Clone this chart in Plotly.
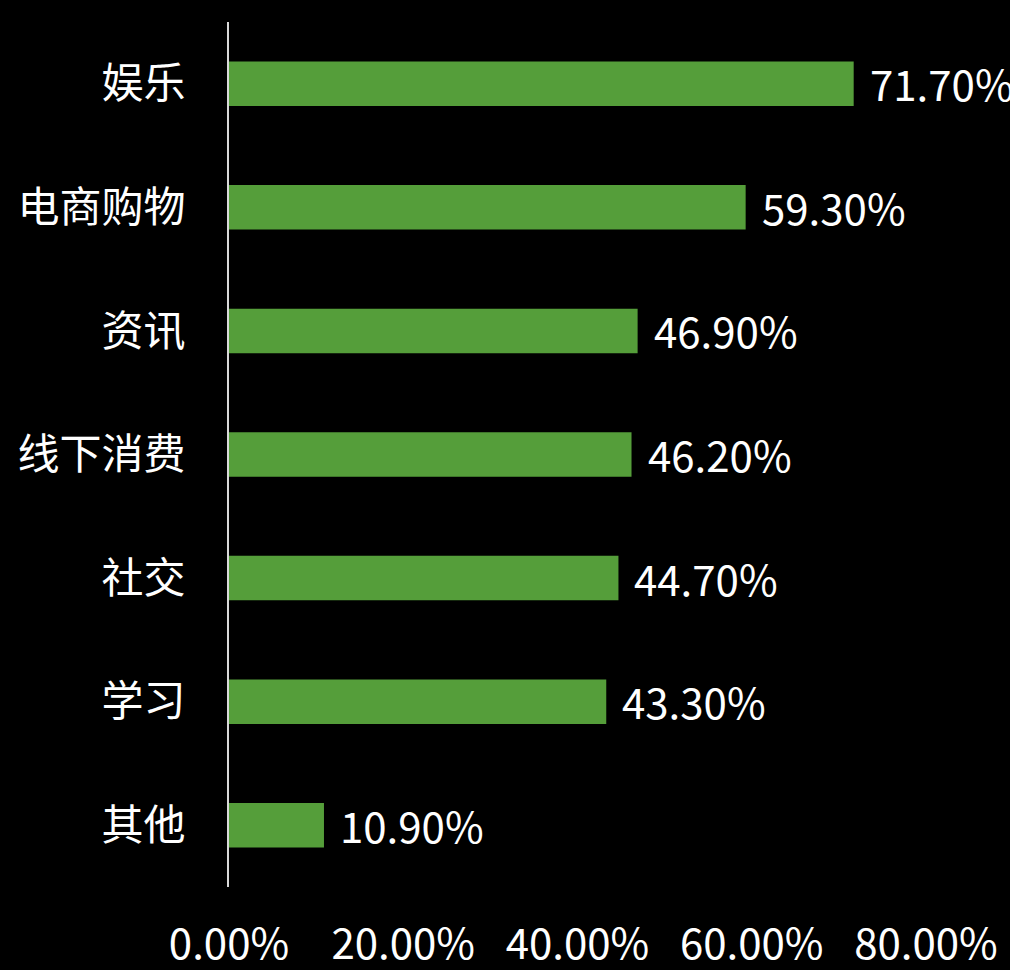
import plotly.graph_objects as go

categories = ["娱乐", "电商购物", "资讯", "线下消费", "社交", "学习", "其他"]
values = [0.717, 0.593, 0.469, 0.462, 0.447, 0.433, 0.109]
tick_vals = [0, 0.2, 0.4, 0.6, 0.8]
tick_text = ["0.00%", "20.00%", "40.00%", "60.00%", "80.00%"]

FONT = "Noto Sans CJK SC, Microsoft YaHei, sans-serif"
FS = 42

fig = go.Figure()
fig.add_trace(go.Bar(
    y=categories, x=values, orientation="h",
    marker=dict(color="#559E3A", line=dict(width=0)),
    width=0.36,
))
for c, v in zip(categories, values):
    fig.add_annotation(x=v, y=c, text=f"{v*100:.2f}%", showarrow=False,
                       xanchor="left", yanchor="middle", xshift=14, yshift=1,
                       font=dict(color="white", size=FS, family=FONT))

fig.update_layout(
    width=1010, height=970,
    paper_bgcolor="black", plot_bgcolor="black",
    margin=dict(l=229, r=84, t=22, b=83),
    showlegend=False,
    font=dict(family=FONT, color="white", size=FS),
    xaxis=dict(range=[0, 0.8], tickvals=tick_vals, ticktext=tick_text,
               showgrid=False, zeroline=False, showline=False,
               ticks="", ticklabelstandoff=29, automargin=False,
               tickfont=dict(size=FS, color="white")),
    yaxis=dict(categoryorder="array", categoryarray=categories[::-1],
               showgrid=False, zeroline=False, showline=True,
               linecolor="#d9d9d9", linewidth=2, ticks="",
               ticklabelstandoff=33, automargin=False,
               tickfont=dict(size=FS, color="white")),
)
fig.write_html("out.html", config={"displayModeBar": False},
               post_script="document.body.style.margin='0';document.body.style.background='black';")
